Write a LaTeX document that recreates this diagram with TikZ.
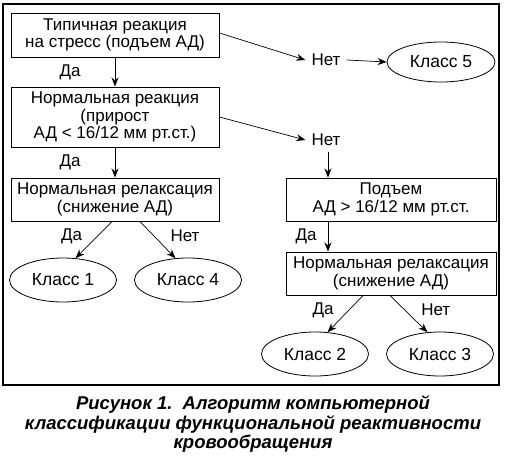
\documentclass[tikz,border=0pt]{standalone}
\usepackage{fontspec}
\setmainfont{Liberation Sans}
\usetikzlibrary{shapes.geometric, arrows.meta, positioning}

\begin{document}
\begin{tikzpicture}[
    x=1pt, y=-1pt,
    box/.style={rectangle, draw, line width=1pt, minimum width=208pt, minimum height=43pt, align=center, inner sep=2pt, font=\fontsize{17}{17.5}\selectfont},
    klass/.style={ellipse, draw, line width=0.8pt, minimum width=107pt, minimum height=44pt, inner sep=1pt, font=\fontsize{17.5}{17.5}\selectfont},
    arrow/.style={-{Stealth[length=9pt, width=7pt]}, line width=0.7pt},
    lbl/.style={font=\fontsize{17}{17.5}\selectfont, inner sep=1pt},
    answer/.style={font=\fontsize{17}{17.5}\selectfont, inner sep=6pt},
]
    \useasboundingbox (0,0) rectangle (506,463);
    \draw[line width=1.2pt] (3,4) rectangle (499,385);

    % Left branch
    \node[box, minimum height=44pt] (stress) at (115,35) {Типичная реакция\\на стресс (подъем АД)};
    \node[box, minimum height=60pt] (norm) at (115,117) {Нормальная реакция\\(прирост\\АД < 16/12 мм рт.ст.)};
    \node[box] (relaxL) at (115,199.5) {Нормальная релаксация\\(снижение АД)};
    \node[klass] (k1) at (63,280) {Класс 1};
    \node[klass] (k4) at (188,280) {Класс 4};

    % Right branch
    \node[answer] (no1) at (326,60) {Нет};
    \node[klass, minimum width=108pt, minimum height=40pt] (k5) at (441,62) {Класс 5};
    \node[answer] (no2) at (326,140) {Нет};
    \node[box, minimum width=210pt] (rise) at (391,199.5) {Подъем\\АД > 16/12 мм рт.ст.};
    \node[box, minimum width=210pt] (relaxR) at (391,273.5) {Нормальная релаксация\\(снижение АД)};
    \node[klass] (k2) at (315,354) {Класс 2};
    \node[klass] (k3) at (440,354) {Класс 3};

    % Arrows
    \draw[arrow] (stress) -- (norm) node[midway, left=33pt, lbl] {Да};
    \draw[arrow] (norm) -- (relaxL) node[midway, left=33pt, lbl] {Да};
    \draw[arrow] ([xshift=-3pt]relaxL.south) -- (k1.60) node[pos=0.4, left=14pt, lbl] {Да};
    \draw[arrow] ([xshift=25pt]relaxL.south) -- (k4.120) node[pos=0.4, right=15pt, lbl] {Нет};
    \draw[arrow] ([yshift=2pt]stress.east) -- (no1.west);
    \draw[arrow] (no1.east) -- (k5.west);
    \draw[arrow] (norm.east) -- (no2.west);
    \draw[arrow] ([xshift=2pt]no2.south) -- ([xshift=2pt]no2 |- rise.north);
    \draw[arrow] ([xshift=2pt]rise.south -| no2) -- ([xshift=2pt]relaxR.north -| no2) node[midway, left=10pt, lbl] {Да};
    \draw[arrow] ([xshift=-28pt]relaxR.south) -- (k2.60) node[pos=0.4, left=14pt, lbl] {Да};
    \draw[arrow] ([xshift=-1pt]relaxR.south) -- (k3.120) node[pos=0.4, right=15pt, lbl] {Нет};

    % Caption
    \node[align=center, font=\fontsize{18.5}{19.5}\selectfont\bfseries\itshape] (caption) at (253,424)
        {Рисунок 1.\ \ Алгоритм компьютерной\\классификации функциональной реактивности\\кровообращения};
\end{tikzpicture}
\end{document}
